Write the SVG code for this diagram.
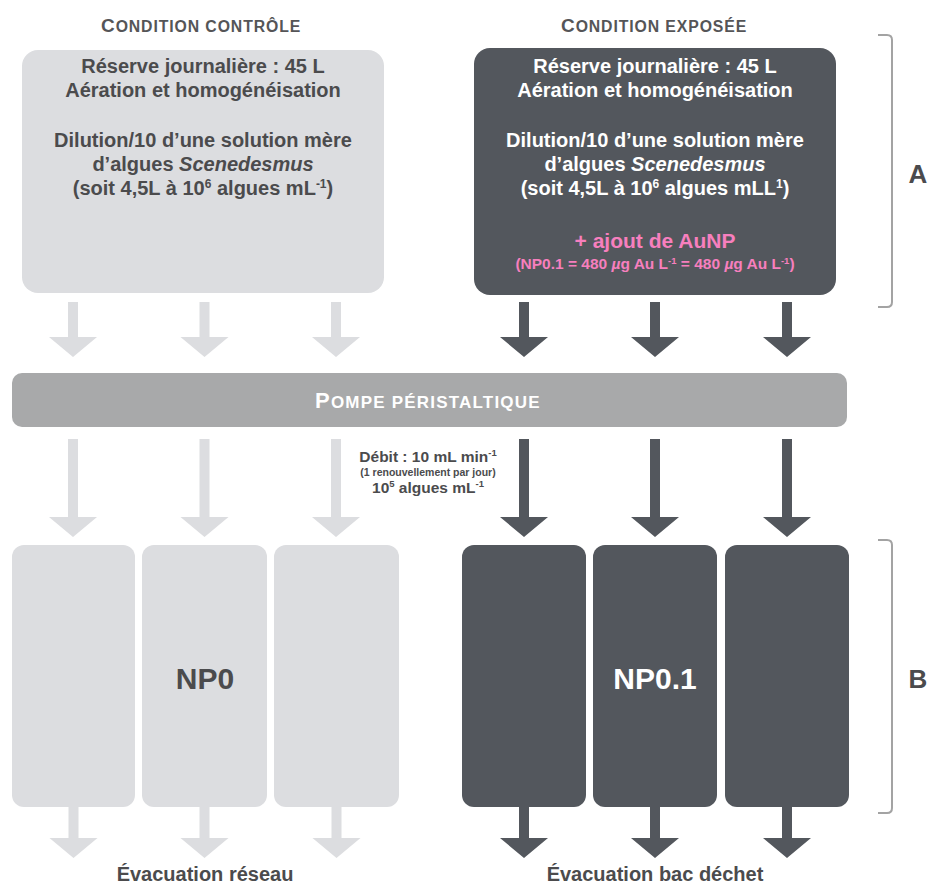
<svg xmlns="http://www.w3.org/2000/svg" width="929" height="886" viewBox="0 0 929 886">
<style>
text{font-family:"Liberation Sans",Arial,Helvetica,sans-serif;font-weight:bold}
.lt{fill:#dcdde0}
.dk{fill:#53575d}
.tg{fill:#4b4b4d}
.tw{fill:#ffffff}
.pk{fill:#f77fbe}
.hd{fill:#555557;letter-spacing:0.9px}
.bt{font-size:20px;text-anchor:middle}
.br{fill:none;stroke:#a3a3a3;stroke-width:2}
</style>
<rect width="929" height="886" fill="#ffffff"/>

<g id="header-controle">
<text class="hd" x="101" y="32" font-size="15.8"><tspan font-size="19">C</tspan>ONDITION CONTRÔLE</text>
</g>
<g id="header-exposee">
<text class="hd" x="561" y="32" font-size="15.8"><tspan font-size="19">C</tspan>ONDITION EXPOSÉE</text>
</g>

<g id="reserve-controle">
<rect class="lt" x="22" y="50" width="362" height="243" rx="16"/>
<text class="tg bt" x="203" y="73">Réserve journalière : 45 L</text>
<text class="tg bt" x="203" y="97">Aération et homogénéisation</text>
<text class="tg bt" x="203" y="147">Dilution/10 d’une solution mère</text>
<text class="tg bt" x="203" y="171">d’algues <tspan font-style="italic">Scenedesmus</tspan></text>
<text class="tg bt" x="203" y="195">(soit 4,5L à 10<tspan font-size="12" dy="-7">6</tspan><tspan dy="7"> algues mL</tspan><tspan font-size="12" dy="-7">-1</tspan><tspan dy="7">)</tspan></text>
</g>

<g id="reserve-exposee">
<rect class="dk" x="474" y="48" width="362" height="247" rx="16"/>
<text class="tw bt" x="655" y="73">Réserve journalière : 45 L</text>
<text class="tw bt" x="655" y="97">Aération et homogénéisation</text>
<text class="tw bt" x="655" y="147">Dilution/10 d’une solution mère</text>
<text class="tw bt" x="655" y="171">d’algues <tspan font-style="italic">Scenedesmus</tspan></text>
<text class="tw bt" x="655" y="195">(soit 4,5L à 10<tspan font-size="12" dy="-7">6</tspan><tspan dy="7"> algues mLL</tspan><tspan font-size="12" dy="-7">1</tspan><tspan dy="7">)</tspan></text>
<text class="pk" x="655" y="248" font-size="21" text-anchor="middle">+ ajout de AuNP</text>
<text class="pk" x="655" y="269" font-size="15.5" text-anchor="middle">(NP0.1 = 480 <tspan font-style="italic">µ</tspan>g Au L<tspan font-size="9.5" dy="-5">-1</tspan><tspan dy="5"> = 480 </tspan><tspan font-style="italic">µ</tspan>g Au L<tspan font-size="9.5" dy="-5">-1</tspan><tspan dy="5">)</tspan></text>
</g>

<g id="bracket-A">
<path class="br" d="M878 35 H887 Q892 35 892 40 V302 Q892 307 887 307 H878"/>
<text x="918" y="183" font-size="26" text-anchor="middle" fill="#4b4b4d">A</text>
</g>

<g id="pompe">
<rect x="12" y="373" width="835" height="54" rx="10" fill="#a8a9aa"/>
<text class="tw" x="315" y="408" font-size="17" letter-spacing="1.2"><tspan font-size="22">P</tspan>OMPE PÉRISTALTIQUE</text>
</g>

<g id="debit-label">
<text class="tg" x="428" y="462" font-size="15.5" text-anchor="middle">Débit : 10 mL min<tspan font-size="9.5" dy="-6">-1</tspan></text>
<text class="tg" x="428" y="476" font-size="10.5" text-anchor="middle">(1 renouvellement par jour)</text>
<text class="tg" x="428" y="493" font-size="15.5" text-anchor="middle">10<tspan font-size="9.5" dy="-6">5</tspan><tspan dy="6"> algues mL</tspan><tspan font-size="9.5" dy="-6">-1</tspan></text>
</g>

<g id="bassins-NP0">
<rect class="lt" x="12" y="545" width="123" height="262" rx="12"/>
<rect class="lt" x="142" y="545" width="125" height="262" rx="12"/>
<rect class="lt" x="274" y="545" width="125" height="262" rx="12"/>
<text class="tg" x="205" y="689" font-size="30" text-anchor="middle">NP0</text>
</g>

<g id="bassins-NP01">
<rect class="dk" x="462" y="545" width="124" height="262" rx="12"/>
<rect class="dk" x="593" y="545" width="124" height="262" rx="12"/>
<rect class="dk" x="725" y="545" width="124" height="262" rx="12"/>
<text class="tw" x="655" y="689" font-size="30" text-anchor="middle">NP0.1</text>
</g>

<g id="bracket-B">
<path class="br" d="M878 540 H887 Q892 540 892 545 V808 Q892 813 887 813 H878"/>
<text x="918" y="688" font-size="26" text-anchor="middle" fill="#4b4b4d">B</text>
</g>

<g id="connectors">
<path class="lt" d="M68 302h10v35h19l-24 20l-24-20h19z"/>
<path class="lt" d="M199.5 302h10v35h19l-24 20l-24-20h19z"/>
<path class="lt" d="M331 302h10v35h19l-24 20l-24-20h19z"/>
<path class="dk" d="M519 302h10v35h19l-24 20l-24-20h19z"/>
<path class="dk" d="M650 302h10v35h19l-24 20l-24-20h19z"/>
<path class="dk" d="M782 302h10v35h19l-24 20l-24-20h19z"/>

<path class="lt" d="M68 439h10v78h19l-24 20l-24-20h19z"/>
<path class="lt" d="M199.5 439h10v78h19l-24 20l-24-20h19z"/>
<path class="lt" d="M331 439h10v78h19l-24 20l-24-20h19z"/>
<path class="dk" d="M519 439h10v78h19l-24 20l-24-20h19z"/>
<path class="dk" d="M650 439h10v78h19l-24 20l-24-20h19z"/>
<path class="dk" d="M782 439h10v78h19l-24 20l-24-20h19z"/>

<path class="lt" d="M68.5 806h10v32h19l-24 20l-24-20h19z"/>
<path class="lt" d="M199.5 806h10v32h19l-24 20l-24-20h19z"/>
<path class="lt" d="M331.5 806h10v32h19l-24 20l-24-20h19z"/>
<path class="dk" d="M519 806h10v32h19l-24 20l-24-20h19z"/>
<path class="dk" d="M650 806h10v32h19l-24 20l-24-20h19z"/>
<path class="dk" d="M782 806h10v32h19l-24 20l-24-20h19z"/>
</g>

<g id="evacuation-labels">
<text class="tg" x="205" y="881" font-size="20" text-anchor="middle">Évacuation réseau</text>
<text class="tg" x="655" y="881" font-size="20" text-anchor="middle">Évacuation bac déchet</text>
</g>
</svg>
